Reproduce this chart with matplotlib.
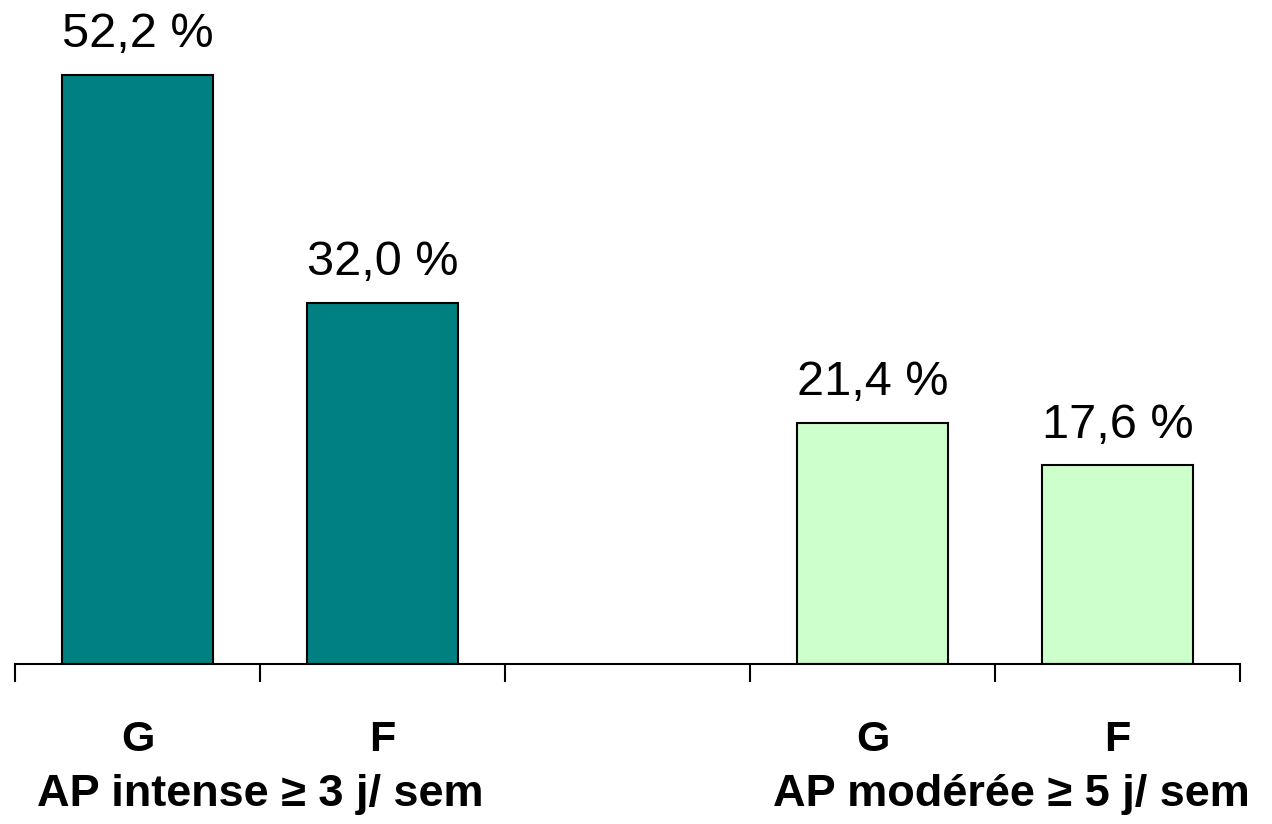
import matplotlib.pyplot as plt

plt.rcParams['font.family'] = ['Liberation Sans', 'DejaVu Sans']

# data
sexes = ['G', 'F', 'G', 'F']
groupes = ['AP intense \u2265 3 j/ sem', 'AP mod\u00e9r\u00e9e \u2265 5 j/ sem']
intense = [52.2, 32.0]
moderee = [21.4, 17.6]

valeurs = intense + moderee
couleurs = ['#008080', '#008080', '#CCFFCC', '#CCFFCC']
pos = [0.5, 1.5, 3.5, 4.5]

fig = plt.figure(figsize=[12.72, 8.24], dpi=100)
ax = fig.add_axes([15/1272, 160/824, 1225/1272, 664/824])

ax.bar(pos, valeurs, width=0.62, color=couleurs, edgecolor='black', linewidth=1.5)

for x, v in zip(pos, valeurs):
    txt = f'{v:.1f} %'.replace('.', ',')
    ax.annotate(txt, (x, v), xytext=(0, 20), textcoords='offset points',
                ha='center', va='baseline', fontsize=35)

ax.set_xlim(0, 5)
ax.set_ylim(0, 58.86)
ax.set_xticks([0, 1, 2, 3, 4, 5])
ax.set_xticklabels([])
ax.tick_params(axis='x', direction='out', length=13, width=1.5)
ax.set_yticks([])
for s in ['top', 'right', 'left']:
    ax.spines[s].set_visible(False)
ax.spines['bottom'].set_linewidth(1.5)

# labels under the axis
for x, s in zip(pos, sexes):
    ax.text(x, -7.71, s, ha='center', va='baseline', fontsize=31, fontweight='bold',
            clip_on=False)
for x, g in zip([1.0, 4.065], groupes):
    ax.text(x, -12.6, g, ha='center', va='baseline', fontsize=32.5, fontweight='bold',
            clip_on=False)

fig.savefig('out.png', dpi=100)
